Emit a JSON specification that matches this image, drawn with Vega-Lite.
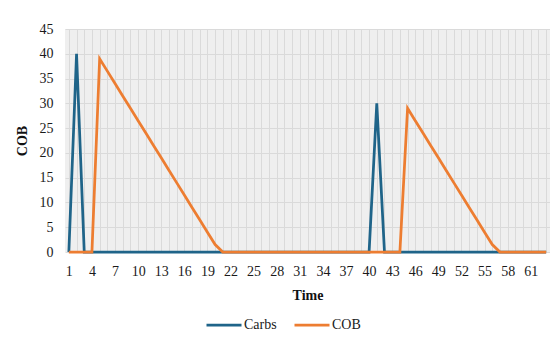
{
  "$schema": "https://vega.github.io/schema/vega-lite/v6.json",
  "width": 485,
  "height": 223,
  "autosize": {"type": "none"},
  "padding": {"left": 65, "top": 29, "right": 0, "bottom": 93},
  "background": "white",
  "config": {
    "font": "Liberation Serif, Times New Roman, serif",
    "view": {"fill": "#efefef", "stroke": null},
    "axis": {"labelFont": "Liberation Serif, Times New Roman, serif", "titleFont": "Liberation Serif, Times New Roman, serif", "labelColor": "#1a1a1a", "titleColor": "#111111", "labelFontSize": 14, "titleFontSize": 14, "titleFontWeight": "bold", "domain": false, "ticks": false, "gridColor": "#dadada", "gridWidth": 1},
    "legend": {"labelFont": "Liberation Serif, Times New Roman, serif", "labelFontSize": 14, "labelColor": "#1a1a1a"}
  },
  "data": {
    "values": [
      {"t": 1, "Carbs": 0, "COB": 0}, {"t": 2, "Carbs": 40, "COB": 0}, {"t": 3, "Carbs": 0, "COB": 0},
      {"t": 4, "Carbs": 0, "COB": 0}, {"t": 5, "Carbs": 0, "COB": 39}, {"t": 6, "Carbs": 0, "COB": 36.5},
      {"t": 7, "Carbs": 0, "COB": 34}, {"t": 8, "Carbs": 0, "COB": 31.5}, {"t": 9, "Carbs": 0, "COB": 29},
      {"t": 10, "Carbs": 0, "COB": 26.5}, {"t": 11, "Carbs": 0, "COB": 24}, {"t": 12, "Carbs": 0, "COB": 21.5},
      {"t": 13, "Carbs": 0, "COB": 19}, {"t": 14, "Carbs": 0, "COB": 16.5}, {"t": 15, "Carbs": 0, "COB": 14},
      {"t": 16, "Carbs": 0, "COB": 11.5}, {"t": 17, "Carbs": 0, "COB": 9}, {"t": 18, "Carbs": 0, "COB": 6.5},
      {"t": 19, "Carbs": 0, "COB": 4}, {"t": 20, "Carbs": 0, "COB": 1.5}, {"t": 21, "Carbs": 0, "COB": 0},
      {"t": 22, "Carbs": 0, "COB": 0}, {"t": 23, "Carbs": 0, "COB": 0}, {"t": 24, "Carbs": 0, "COB": 0},
      {"t": 25, "Carbs": 0, "COB": 0}, {"t": 26, "Carbs": 0, "COB": 0}, {"t": 27, "Carbs": 0, "COB": 0},
      {"t": 28, "Carbs": 0, "COB": 0}, {"t": 29, "Carbs": 0, "COB": 0}, {"t": 30, "Carbs": 0, "COB": 0},
      {"t": 31, "Carbs": 0, "COB": 0}, {"t": 32, "Carbs": 0, "COB": 0}, {"t": 33, "Carbs": 0, "COB": 0},
      {"t": 34, "Carbs": 0, "COB": 0}, {"t": 35, "Carbs": 0, "COB": 0}, {"t": 36, "Carbs": 0, "COB": 0},
      {"t": 37, "Carbs": 0, "COB": 0}, {"t": 38, "Carbs": 0, "COB": 0}, {"t": 39, "Carbs": 0, "COB": 0},
      {"t": 40, "Carbs": 0, "COB": 0}, {"t": 41, "Carbs": 30, "COB": 0}, {"t": 42, "Carbs": 0, "COB": 0},
      {"t": 43, "Carbs": 0, "COB": 0}, {"t": 44, "Carbs": 0, "COB": 0}, {"t": 45, "Carbs": 0, "COB": 29},
      {"t": 46, "Carbs": 0, "COB": 26.5}, {"t": 47, "Carbs": 0, "COB": 24}, {"t": 48, "Carbs": 0, "COB": 21.5},
      {"t": 49, "Carbs": 0, "COB": 19}, {"t": 50, "Carbs": 0, "COB": 16.5}, {"t": 51, "Carbs": 0, "COB": 14},
      {"t": 52, "Carbs": 0, "COB": 11.5}, {"t": 53, "Carbs": 0, "COB": 9}, {"t": 54, "Carbs": 0, "COB": 6.5},
      {"t": 55, "Carbs": 0, "COB": 4}, {"t": 56, "Carbs": 0, "COB": 1.5}, {"t": 57, "Carbs": 0, "COB": 0},
      {"t": 58, "Carbs": 0, "COB": 0}, {"t": 59, "Carbs": 0, "COB": 0}, {"t": 60, "Carbs": 0, "COB": 0},
      {"t": 61, "Carbs": 0, "COB": 0}, {"t": 62, "Carbs": 0, "COB": 0}, {"t": 63, "Carbs": 0, "COB": 0}
    ]
  },
  "transform": [{"fold": ["Carbs", "COB"], "as": ["series", "value"]}],
  "encoding": {
    "x": {"field": "t", "type": "quantitative", "scale": {"domain": [0.5, 63.5], "nice": false, "zero": false},
      "axis": {"title": "Time", "values": [1,2,3,4,5,6,7,8,9,10,11,12,13,14,15,16,17,18,19,20,21,22,23,24,25,26,27,28,29,30,31,32,33,34,35,36,37,38,39,40,41,42,43,44,45,46,47,48,49,50,51,52,53,54,55,56,57,58,59,60,61,62,63],
        "labelExpr": "(datum.value - 1) % 3 === 0 ? datum.label : ''", "labelPadding": 12, "titlePadding": 10, "labelOverlap": false, "labelBound": false}},
    "y": {"field": "value", "type": "quantitative", "scale": {"domain": [0, 45], "nice": false},
      "axis": {"title": "COB", "values": [0,5,10,15,20,25,30,35,40,45], "labelPadding": 12, "titlePadding": 10, "labelOverlap": false}},
    "color": {"field": "series", "type": "nominal", "scale": {"domain": ["Carbs", "COB"], "range": ["#1f6489", "#ed7d31"]},
      "legend": {"title": null, "orient": "none", "direction": "horizontal", "legendX": 140, "legendY": 277, "symbolType": "stroke", "symbolSize": 1225, "symbolStrokeWidth": 2.75, "labelOffset": 1, "columnPadding": 12}}
  },
  "layer": [
    {
      "transform": [{"filter": "datum.series === 'Carbs'"}],
      "mark": {"type": "line", "strokeWidth": 2.75, "clip": false}
    },
    {
      "transform": [{"filter": "datum.series === 'COB'"}],
      "mark": {"type": "line", "strokeWidth": 2.75, "clip": false}
    }
  ]
}
